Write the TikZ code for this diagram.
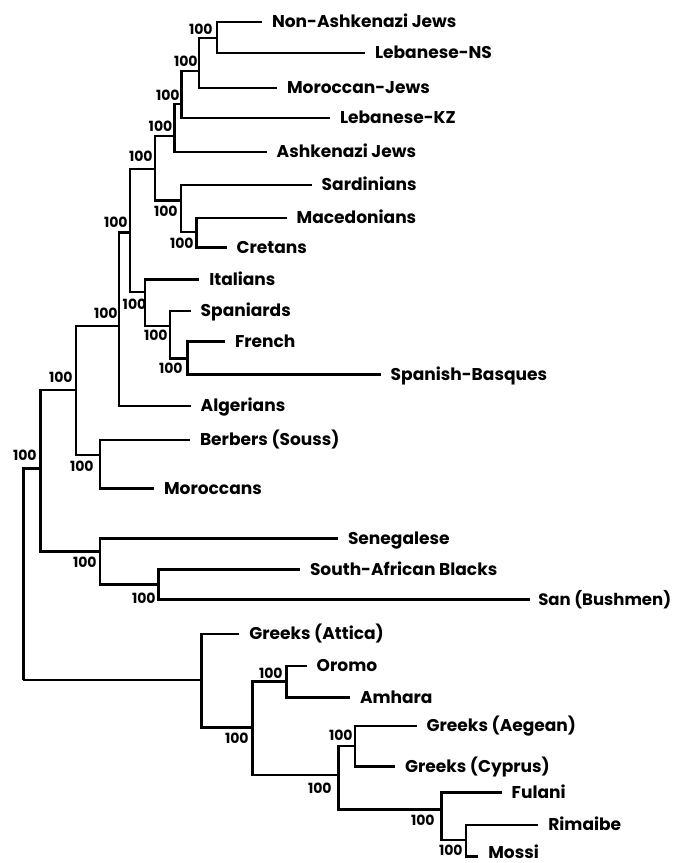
\documentclass[tikz,border=0pt]{standalone}
\usepackage{fontspec}
\setmainfont{Poppins}
\usepackage{tikz}
\usetikzlibrary{positioning,calc}
\tikzset{
    x=0.02cm,
    y=-0.02cm,
    branch/.style = {
        draw,
        line width=1.4pt
    },
    leaf/.style = {
        shape=rectangle,
        anchor=west,
        inner xsep=5.5pt,
        inner ysep=0pt,
        text height=6.8pt,
        text depth=0pt,
        font=\bfseries\fontsize{9.7}{12}\selectfont
    },
    boot/.style = {
        shape=rectangle,
        anchor=east,
        inner sep=0pt,
        font=\bfseries\fontsize{8}{9}\selectfont
    },
}

\begin{document}
\begin{tikzpicture}
                \useasboundingbox (0,0) rectangle (676,863);

                % inner nodes of the tree
                \coordinate (A) at (217, 38);
                \coordinate (B) at (199, 71);
                \coordinate (C) at (181.7, 104);
                \coordinate (D) at (174.3, 136);
                \coordinate (E) at (155, 169);
                \coordinate (F) at (181, 200.7);
                \coordinate (G) at (196.7, 232);
                \coordinate (I) at (130, 232.7);
                \coordinate (H) at (145, 292);
                \coordinate (K) at (170, 326);
                \coordinate (L) at (187.3, 358.3);
                \coordinate (J) at (119, 326);
                \coordinate (N) at (76, 390);
                \coordinate (M) at (100, 455);
                \coordinate (O) at (40.7, 468.3);
                \coordinate (W) at (100, 551.7);
                \coordinate (X) at (158.3, 584.3);
                \coordinate (root) at (23.3, 680);
                \coordinate (P) at (201.7, 680);
                \coordinate (Q) at (252.7, 727.7);
                \coordinate (R) at (286.7, 681.7);
                \coordinate (S) at (338.3, 775);
                \coordinate (T) at (355, 746);
                \coordinate (U) at (441.7, 809.3);
                \coordinate (V) at (466, 840);

                % populations
                \node[leaf] (najews) at (262, 22) {Non-Ashkenazi Jews};
                \node[leaf] (lebns) at (365, 53) {Lebanese-NS};
                \node[leaf] (morjews) at (277, 88) {Moroccan-Jews};
                \node[leaf] (lebkz) at (330, 118) {Lebanese-KZ};
                \node[leaf] (ashk) at (266.7, 152) {Ashkenazi Jews};
                \node[leaf] (sard) at (311.7, 185) {Sardinians};
                \node[leaf] (maced) at (286.7, 218) {Macedonians};
                \node[leaf] (cret) at (226.7, 247.5) {Cretans};
                \node[leaf] (ital) at (199.3, 279.3) {Italians};
                \node[leaf] (span) at (190.7, 311) {Spaniards};
                \node[leaf] (french) at (225, 341.7) {French};
                \node[leaf] (basq) at (380.7, 374.3) {Spanish-Basques};
                \node[leaf] (alger) at (190.7, 406) {Algerians};
                \node[leaf] (berb) at (190, 440) {Berbers (Souss)};
                \node[leaf] (moroc) at (154, 488.3) {Moroccans};
                \node[leaf] (seneg) at (338, 538.3) {Senegalese};
                \node[leaf] (sab) at (300, 569.3) {South-African Blacks};
                \node[leaf, inner xsep=4.5pt, font=\bfseries\fontsize{9.4}{12}\selectfont] (san) at (530, 599.3) {San (Bushmen)};
                \node[leaf] (attica) at (239.3, 634) {Greeks (Attica)};
                \node[leaf] (oromo) at (306.7, 666) {Oromo};
                \node[leaf] (amhara) at (350, 697.7) {Amhara};
                \node[leaf] (aegean) at (416.7, 726) {Greeks (Aegean)};
                \node[leaf] (cyprus) at (395, 766.7) {Greeks (Cyprus)};
                \node[leaf] (fulani) at (501.7, 792.7) {Fulani};
                \node[leaf] (rimaibe) at (538.3, 825) {Rimaibe};
                \node[leaf, text depth=4.5pt] (mossi) at (478.3, 856.7) {Mossi};

                % bootstrap values
                \node[boot] (bA) at (213, 29) {100};
                \node[boot] (bB) at (198, 61.7) {100};
                \node[boot] (bC) at (180, 95) {100};
                \node[boot] (bD) at (172.7, 126.7) {100};
                \node[boot] (bE) at (153, 156.7) {100};
                \node[boot] (bF) at (178, 211) {100};
                \node[boot] (bG) at (194, 243.3) {100};
                \node[boot] (bI) at (128, 222.7) {100};
                \node[boot] (bH) at (146.7, 304) {100};
                \node[boot] (bJ) at (118, 313) {100};
                \node[boot] (bK) at (168, 335) {100};
                \node[boot] (bL) at (183, 368) {100};
                \node[boot] (bN) at (73, 377) {100};
                \node[boot] (bM) at (94, 466) {100};
                \node[boot] (bO) at (37, 455) {100};
                \node[boot] (bW) at (97, 562.7) {100};
                \node[boot] (bX) at (156, 598) {100};
                \node[boot] (bR) at (283, 673) {100};
                \node[boot] (bQ) at (249, 738) {100};
                \node[boot] (bT) at (353, 735) {100};
                \node[boot] (bS) at (332, 788) {100};
                \node[boot] (bU) at (435, 820) {100};
                \node[boot] (bV) at (463, 850) {100};

                % branches
                \path[branch] (A) |- (najews.west);
                \path[branch] (A) |- (lebns.west);
                \path[branch] (B) |- (A);
                \path[branch] (B) |- (morjews.west);
                \path[branch] (C) |- (B);
                \path[branch] (C) |- (lebkz.west);
                \path[branch] (D) |- (C);
                \path[branch] (D) |- (ashk.west);
                \path[branch] (E) |- (D);
                \path[branch] (E) |- (F);
                \path[branch] (F) |- (sard.west);
                \path[branch] (F) |- (G);
                \path[branch] (G) |- (maced.west);
                \path[branch] (G) |- (cret.west);
                \path[branch] (I) |- (E);
                \path[branch] (I) |- (H);
                \path[branch] (H) |- (ital.west);
                \path[branch] (H) |- (K);
                \path[branch] (K) |- (span.west);
                \path[branch] (K) |- (L);
                \path[branch] (L) |- (french.west);
                \path[branch] (L) |- (basq.west);
                \path[branch] (J) |- (I);
                \path[branch] (J) |- (alger.west);
                \path[branch] (N) |- (J);
                \path[branch] (N) |- (M);
                \path[branch] (M) |- (berb.west);
                \path[branch] (M) |- (moroc.west);
                \path[branch] (O) |- (N);
                \path[branch] (O) |- (W);
                \path[branch] (W) |- (seneg.west);
                \path[branch] (W) |- (X);
                \path[branch] (X) |- (sab.west);
                \path[branch] (X) |- (san.west);
                \path[branch] (root) |- (O);
                \path[branch] (root) |- (P);
                \path[branch] (P) |- (attica.west);
                \path[branch] (P) |- (Q);
                \path[branch] (Q) |- (R);
                \path[branch] (Q) |- (S);
                \path[branch] (R) |- (oromo.west);
                \path[branch] (R) |- (amhara.west);
                \path[branch] (S) |- (T);
                \path[branch] (S) |- (U);
                \path[branch] (T) |- (aegean.west);
                \path[branch] (T) |- (cyprus.west);
                \path[branch] (U) |- (fulani.west);
                \path[branch] (U) |- (V);
                \path[branch] (V) |- (rimaibe.west);
                \path[branch] (V) |- (mossi.west);
\end{tikzpicture}
\end{document}
